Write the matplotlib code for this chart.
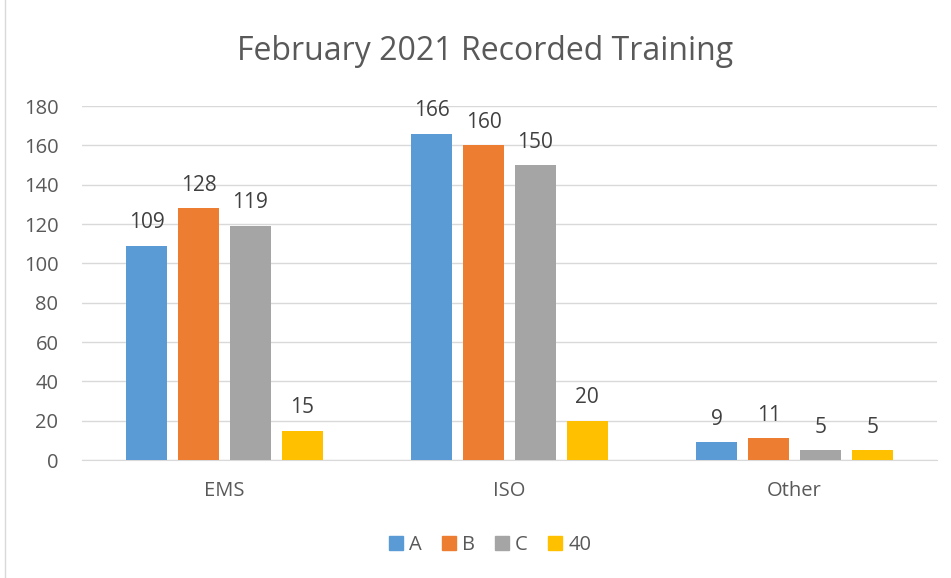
import matplotlib
matplotlib.use("Agg")
import matplotlib.pyplot as plt
import numpy as np
from matplotlib.lines import Line2D

categories = ["EMS", "ISO", "Other"]
series_names = ["A", "B", "C", "40"]
values_A = [109, 166, 9]
values_B = [128, 160, 11]
values_C = [119, 150, 5]
values_40 = [15, 20, 5]
yticks = [0, 20, 40, 60, 80, 100, 120, 140, 160, 180]

colors = ["#5B9BD5", "#ED7D31", "#A5A5A5", "#FFC000"]
txt = "#595959"
plt.rcParams['font.family'] = ['Open Sans', 'DejaVu Sans']

fig = plt.figure(figsize=(9.51, 5.78), dpi=100)
W, H = 951, 578
ax = fig.add_axes([82 / W, 1 - 460 / H, (937 - 82) / W, (460 - 106) / H])

x = np.arange(len(categories))
bw = 0.142
step = 0.182
all_vals = [values_A, values_B, values_C, values_40]
for i, (name, vals) in enumerate(zip(series_names, all_vals)):
    off = (i - 1.5) * step
    bars = ax.bar(x + off, vals, width=bw, color=colors[i], label=name, zorder=3)
    for b, v in zip(bars, vals):
        ax.annotate(str(v), (b.get_x() + b.get_width() / 2, v), xytext=(0, 9),
                    textcoords="offset points", ha="center", va="bottom",
                    fontsize=15, color="#404040")

ax.set_xlim(-0.5, 2.5)
ax.set_ylim(0, 180)
ax.set_yticks(yticks)
ax.set_xticks(x)
ax.set_xticklabels(categories)
ax.tick_params(axis="both", length=0, labelsize=14.5, colors=txt)
ax.tick_params(axis="y", pad=17)
ax.tick_params(axis="x", pad=15)
ax.grid(axis="y", color="#D9D9D9", linewidth=1, zorder=0)
for s in ["top", "right", "left"]:
    ax.spines[s].set_visible(False)
ax.spines["bottom"].set_color("#D9D9D9")

fig.text(485 / W, 1 - 52 / H, "February 2021 Recorded Training", ha="center", va="center",
         fontsize=23, color=txt)

handles = [plt.Rectangle((0, 0), 1, 1, color=c) for c in colors]
fig.legend(handles, series_names, loc="center", bbox_to_anchor=(490 / W, 1 - 545 / H),
           ncol=4, frameon=False, fontsize=14.5, labelcolor=txt, handlelength=0.7,
           handleheight=0.7, handletextpad=0.3, columnspacing=1.0)

fig.add_artist(Line2D([5 / W, 5 / W], [0, 1], color="#D9D9D9", linewidth=1))

fig.savefig("out.png", dpi=100)
